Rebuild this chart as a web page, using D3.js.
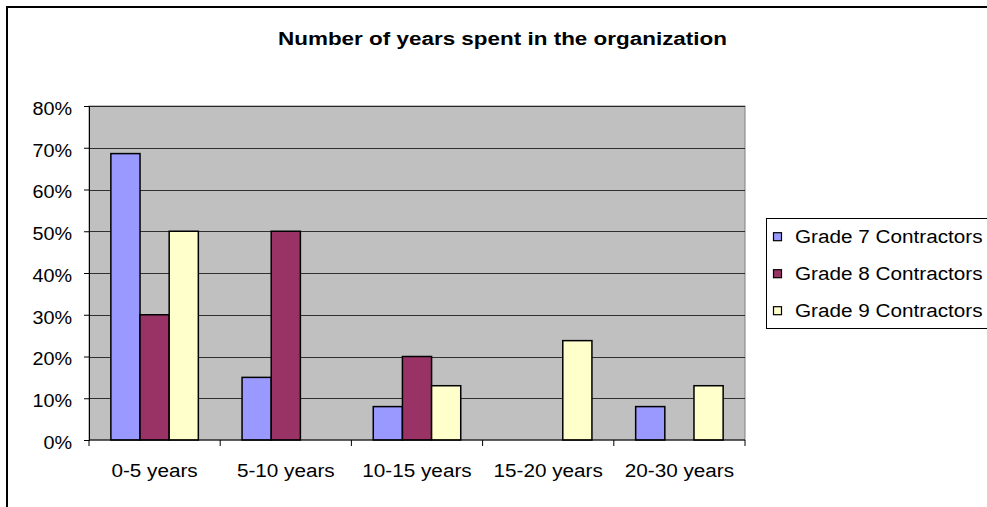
<!DOCTYPE html>
<html><head><meta charset="utf-8">
<script src="https://cdn.jsdelivr.net/npm/d3@7"></script>
<style>body{margin:0;background:#fff;}svg{display:block;font-family:"Liberation Sans",Arial,sans-serif;}</style>
</head><body><svg id="c" width="987" height="507"></svg>
<script>
const categories = ["0-5 years","5-10 years","10-15 years","15-20 years","20-30 years"];
const seriesNames = ["Grade 7 Contractors","Grade 8 Contractors","Grade 9 Contractors"];
const grade7 = [0.686,0.15,0.08,0,0.08];
const grade8 = [0.30,0.50,0.20,0,0];
const grade9 = [0.50,0,0.13,0.238,0.13];
const colors = ["#9999FF","#993366","#FFFFCC"];
const yTicks = [0,0.1,0.2,0.3,0.4,0.5,0.6,0.7,0.8];
const title = "Number of years spent in the organization";

const series = [grade7, grade8, grade9];
const svg = d3.select("#c");
const L = 89, R = 745, T = 106, B = 440;
const FS = 18, STRETCH = 1.15;

function widen(sel, k){
  sel.each(function(){
    const w = this.getComputedTextLength();
    d3.select(this).attr("textLength", w*k).attr("lengthAdjust","spacingAndGlyphs");
  });
}

// outer chart border
svg.append("rect").attr("x",7).attr("y",7).attr("width",1000).attr("height",520)
  .attr("fill","none").attr("stroke","#000").attr("stroke-width",2);

svg.append("text").attr("x",278).attr("y",45)
  .attr("font-size",18).attr("font-weight","bold").attr("fill","#000")
  .attr("textLength",449).attr("lengthAdjust","spacingAndGlyphs").text(title);

const x = d3.scaleBand().domain(categories).range([L,R]);
const y = d3.scaleLinear().domain([0,0.8]).range([B,T]);
const step = x.bandwidth();
const barW = step/4.5;
const xs = d3.scaleBand().domain(seriesNames).range([0,barW*3]);

svg.append("rect").attr("x",L).attr("y",T).attr("width",R-L).attr("height",B-T)
  .attr("fill","#C0C0C0").attr("stroke","#808080").attr("stroke-width",1);

svg.append("g").selectAll("line").data(yTicks.filter(d=>d>0)).join("line")
  .attr("x1",L).attr("x2",R).attr("y1",d=>Math.round(y(d))+0.5).attr("y2",d=>Math.round(y(d))+0.5)
  .attr("stroke","#000").attr("stroke-width",1).attr("stroke-opacity",0.75);

series.forEach((s,i)=>{
  svg.append("g").selectAll("rect").data(categories.map((c,j)=>({c,v:s[j]})).filter(d=>d.v>0)).join("rect")
    .attr("x",d=>x(d.c) + (step-barW*3)/2 + xs(seriesNames[i]))
    .attr("y",d=>y(d.v)).attr("width",barW).attr("height",d=>B-y(d.v))
    .attr("fill",colors[i]).attr("stroke","#000").attr("stroke-width",1.5);
});

const yAxis = d3.axisLeft(y).tickValues(yTicks).tickFormat(d3.format(".0%")).tickSize(5).tickPadding(12);
const ga = svg.append("g").attr("transform",`translate(${L},0)`).call(yAxis);
ga.select(".domain").attr("stroke","#000");
ga.selectAll("text").attr("font-size",FS).attr("fill","#000").attr("dy","0.46em")
  .attr("font-family","Liberation Sans, Arial, sans-serif");
widen(ga.selectAll("text"), 1.1);

const xg = svg.append("g");
xg.append("line").attr("x1",L).attr("x2",R).attr("y1",B).attr("y2",B).attr("stroke","#000");
const bounds = categories.map(c=>x(c)).concat([R]);
xg.selectAll("line.t").data(bounds).join("line").attr("class","t")
  .attr("x1",d=>d).attr("x2",d=>d).attr("y1",B).attr("y2",B+6).attr("stroke","#000");
const xl = xg.selectAll("text").data(categories).join("text")
  .attr("x",d=>x(d)+step/2).attr("y",477).attr("text-anchor","middle")
  .attr("font-size",FS).attr("fill","#000").text(d=>d);
widen(xl, STRETCH);

// legend
const lg = svg.append("g");
lg.append("rect").attr("x",766.5).attr("y",218.5).attr("width",240).attr("height",110)
  .attr("fill","#fff").attr("stroke","#000").attr("stroke-width",1);
seriesNames.forEach((n,i)=>{
  const base = 242.7 + i*37;
  lg.append("rect").attr("x",773.5).attr("y",base-10).attr("width",8).attr("height",8)
    .attr("fill",colors[i]).attr("stroke","#000").attr("stroke-width",1.2);
  const t = lg.append("text").attr("x",795).attr("y",base).attr("font-size",FS)
    .attr("fill","#000").text(n);
  widen(t, STRETCH);
});
</script></body></html>
